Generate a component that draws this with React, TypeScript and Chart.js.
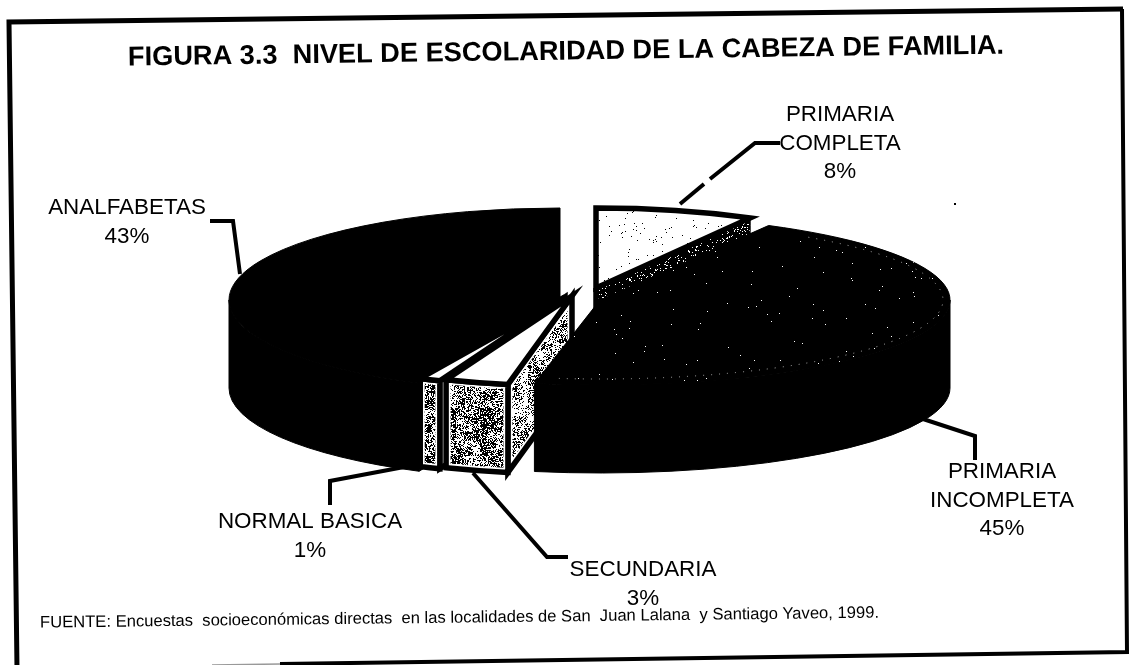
import React, { useEffect, useRef } from "react";
import { Chart, registerables } from "chart.js";

Chart.register(...registerables);

const categories = ["PRIMARIA COMPLETA", "PRIMARIA INCOMPLETA", "SECUNDARIA", "NORMAL BASICA", "ANALFABETAS"];
const shares = [8, 45, 3, 1, 43];
const titleText = "FIGURA 3.3  NIVEL DE ESCOLARIDAD DE LA CABEZA DE FAMILIA.";
const sourceText = "FUENTE: Encuestas  socioeconómicas directas  en las localidades de San  Juan Lalana  y Santiago Yaveo, 1999.";

// Exploded 3D layout of each slice (screen geometry, not data)
const sliceCentreX = [596, 600, 572, 565, 560];
const sliceCentreY = [288, 300, 296, 297, 300];
const sliceRadiusX = [320, 350, 342, 340, 331];
const sliceRadiusY = [80, 85, 90, 90, 92];
const sliceDepth = 88;
const paintOrder = [4, 0, 3, 2, 1];
const sliceTop = ["#ffffff", "#000000", "#ffffff", "#ffffff", "#000000"];

const labelCentreX = [840, 1002, 643, 310, 127];
const labelTopY = [115, 472, 570, 522, 208];
const labelLineGap = 28.5;
const labelBreaks = [["PRIMARIA", "COMPLETA"], ["PRIMARIA", "INCOMPLETA"], ["SECUNDARIA"], ["NORMAL BASICA"], ["ANALFABETAS"]];

const leaders: number[][][] = [
  [[780, 143], [755, 143], [710, 179]],
  [[704, 184], [680, 204]],
  [[920, 418], [975, 436], [975, 460]],
  [[473, 473], [547, 557], [568, 557]],
  [[420, 464], [330, 481], [330, 505]],
  [[210, 221], [233, 221], [240, 274]],
];

// Deterministic print-grain texture for the scanned shading (not chart data)
function grain(x: number, y: number) {
  let h = Math.imul(x, 374761393) + Math.imul(y, 668265263);
  h = Math.imul(h ^ (h >>> 13), 1274126177);
  h ^= h >>> 16;
  return (h >>> 0) / 4294967296;
}

function noisePattern(ctx: CanvasRenderingContext2D, density: number, clump: number, size = 128) {
  const c = document.createElement("canvas");
  c.width = c.height = size;
  const g = c.getContext("2d") as CanvasRenderingContext2D;
  g.fillStyle = "#fff";
  g.fillRect(0, 0, size, size);
  g.fillStyle = "#000";
  for (let y = 0; y < size; y++) {
    for (let x = 0; x < size; x++) {
      const patch = clump > 0 ? grain(x >> 3, (y >> 3) + 991) * clump : 0;
      if (grain(x, y) < density + patch - clump / 2) g.fillRect(x, y, 1, 1);
    }
  }
  return ctx.createPattern(c, "repeat") as CanvasPattern;
}

const drawPie = {
  id: "explodedPie",
  beforeDatasetDraw(chart: any) {
    const ctx: CanvasRenderingContext2D = chart.ctx;
    const arcs = chart.getDatasetMeta(0).data;
    const mid = noisePattern(ctx, 0.52, 0.5);
    const light = noisePattern(ctx, 0.36, 0.5);
    const dark = noisePattern(ctx, 0.9, 0.15);
    const sideFill = [dark, "#000", light, mid, "#000"];
    const wallFill = ["#000", "#000", mid, mid, "#000"];

    const face = (trace: () => void, fill: any, outlined: boolean) => {
      ctx.beginPath();
      trace();
      ctx.closePath();
      ctx.fillStyle = fill;
      ctx.fill();
      if (outlined) {
        ctx.save();
        ctx.clip();
        ctx.strokeStyle = "#fff";
        ctx.lineWidth = 9;
        ctx.stroke();
        ctx.restore();
        ctx.strokeStyle = "#000";
        ctx.lineWidth = 5.5;
        ctx.lineJoin = "miter";
        ctx.stroke();
      } else {
        ctx.strokeStyle = "#000";
        ctx.lineWidth = 1;
        ctx.stroke();
      }
    };

    for (const i of paintOrder) {
      const { startAngle: a0, endAngle: a1 } = arcs[i].getProps(["startAngle", "endAngle"], true);
      const cx = sliceCentreX[i], cy = sliceCentreY[i], rx = sliceRadiusX[i], ry = sliceRadiusY[i], d = sliceDepth;
      const px = (a: number) => cx + rx * Math.cos(a);
      const py = (a: number) => cy + ry * Math.sin(a);
      const outlined = sliceTop[i] === "#ffffff";

      const radial = (a: number) =>
        face(() => {
          ctx.moveTo(cx, cy);
          ctx.lineTo(px(a), py(a));
          ctx.lineTo(px(a), py(a) + d);
          ctx.lineTo(cx, cy + d);
        }, sideFill[i], i !== 0 && outlined);
      if (Math.cos(a0) < 0) radial(a0);
      if (Math.cos(a1) > 0) radial(a1);

      const lo = Math.max(a0, 0), hi = Math.min(a1, Math.PI);
      if (hi > lo) {
        face(() => {
          ctx.ellipse(cx, cy, rx, ry, 0, lo, hi);
          ctx.ellipse(cx, cy + d, rx, ry, 0, hi, lo, true);
        }, wallFill[i], outlined);
      }

      if (i === 0) {
        ctx.beginPath();
        ctx.moveTo(cx, cy);
        ctx.lineTo(cx, cy + d);
        ctx.strokeStyle = "#000";
        ctx.lineWidth = 5.5;
        ctx.stroke();
      }

      ctx.beginPath();
      ctx.moveTo(cx, cy);
      ctx.ellipse(cx, cy, rx, ry, 0, a0, a1);
      ctx.closePath();
      ctx.fillStyle = sliceTop[i];
      ctx.fill();
      ctx.strokeStyle = "#000";
      ctx.lineWidth = outlined ? 5.5 : 1;
      ctx.stroke();
      if (i === 0) {
        ctx.save();
        ctx.clip();
        ctx.fillStyle = noisePattern(ctx, 0.012, 0, 211);
        ctx.globalCompositeOperation = "multiply";
        ctx.fill();
        ctx.restore();
      }
      if (i === 1) {
        ctx.save();
        ctx.clip();
        ctx.globalCompositeOperation = "lighten";
        ctx.fillStyle = noisePattern(ctx, 0.9975, 0, 317);
        ctx.fill();
        ctx.beginPath();
        ctx.ellipse(cx, cy, rx - 7, ry - 6, 0, a0 + 0.15, a1 - 0.05);
        ctx.setLineDash([1, 7]);
        ctx.strokeStyle = "#aaa";
        ctx.lineWidth = 1;
        ctx.stroke();
        ctx.restore();
      }
    }
    return false;
  },
};

const drawNotes = {
  id: "scanNotes",
  afterDraw(chart: any) {
    const ctx: CanvasRenderingContext2D = chart.ctx;
    ctx.save();
    ctx.fillStyle = "#000";
    ctx.strokeStyle = "#000";

    // frame
    ctx.lineWidth = 5;
    ctx.lineJoin = "miter";
    ctx.beginPath();
    ctx.moveTo(17, 668);
    ctx.lineTo(9, 22);
    ctx.lineTo(1123, 9);
    ctx.stroke();
    ctx.lineWidth = 4;
    ctx.beginPath();
    ctx.moveTo(1122, 9);
    ctx.lineTo(1127, 652);
    ctx.lineTo(280, 664);
    ctx.stroke();
    ctx.strokeStyle = "#999";
    ctx.lineWidth = 1.5;
    ctx.beginPath();
    ctx.moveTo(280, 664);
    ctx.lineTo(212, 665);
    ctx.stroke();
    ctx.strokeStyle = "#000";

    // leaders
    ctx.lineWidth = 4;
    ctx.lineCap = "butt";
    for (const line of leaders) {
      ctx.beginPath();
      line.forEach(([x, y], k) => (k ? ctx.lineTo(x, y) : ctx.moveTo(x, y)));
      ctx.stroke();
    }
    ctx.fillRect(954, 203, 2, 2);

    const tilted = (text: string, x: number, y: number, font: string, align: CanvasTextAlign, deg: number) => {
      ctx.save();
      ctx.translate(x, y);
      ctx.rotate((deg * Math.PI) / 180);
      ctx.font = font;
      ctx.textAlign = align;
      ctx.textBaseline = "middle";
      ctx.fillText(text, 0, 0);
      ctx.restore();
    };

    tilted(titleText, 128, 58, "bold 27.2px 'Liberation Sans'", "left", -0.78);
    tilted(sourceText, 40, 623, "16.6px 'Liberation Sans'", "left", -0.68);

    categories.forEach((_, i) => {
      const rows = [...labelBreaks[i], `${shares[i]}%`];
      rows.forEach((row, k) => {
        tilted(row, labelCentreX[i], labelTopY[i] + k * labelLineGap, "22.4px 'Liberation Sans'", "center", 0);
      });
    });
    ctx.restore();
  },
};

export default function App() {
  const ref = useRef<HTMLCanvasElement>(null);
  useEffect(() => {
    if (!ref.current) return;
    const chart = new Chart(ref.current, {
      type: "pie",
      data: {
        labels: categories,
        datasets: [{ data: shares, backgroundColor: sliceTop, borderWidth: 0 }],
      },
      options: {
        responsive: false,
        animation: false,
        rotation: 0,
        plugins: { legend: { display: false }, tooltip: { enabled: false }, title: { display: false } },
      },
      plugins: [drawPie, drawNotes],
    });
    return () => chart.destroy();
  }, []);
  return (
    <div style={{ position: "absolute", left: 0, top: 0, width: 1130, height: 665, background: "#fff", overflow: "hidden" }}>
      <canvas ref={ref} width={1130} height={665} style={{ display: "block" }} />
    </div>
  );
}
